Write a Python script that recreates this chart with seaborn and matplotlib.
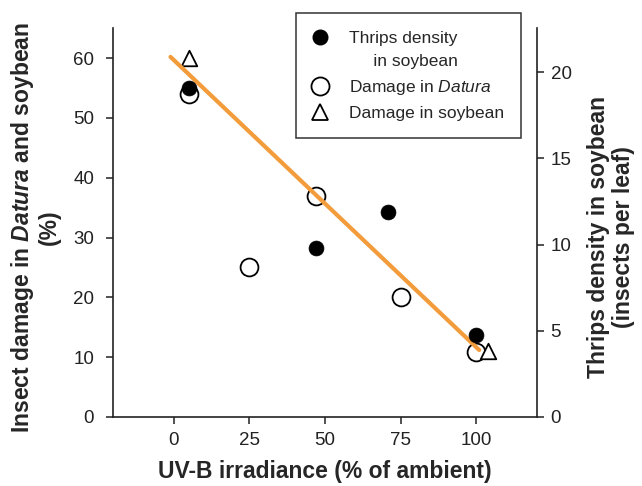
import matplotlib
matplotlib.use("Agg")
import matplotlib.pyplot as plt
from matplotlib.lines import Line2D
import seaborn as sns
import pandas as pd

# values
uvb_thrips = [5, 47, 71, 100]
thrips_density = [19.1, 9.8, 11.9, 4.75]

uvb_datura = [5, 25, 47, 75, 100]
damage_datura = [54, 25, 37, 20, 10.8]

uvb_soybean = [5, 104]
damage_soybean = [60, 11.1]

fit_x = [-1, 101]
fit_y = [60.2, 11.2]

x_ticks = [0, 25, 50, 75, 100]
left_ticks = [0, 10, 20, 30, 40, 50, 60]
right_ticks = [0, 5, 10, 15, 20]

ORANGE = "#F39C3C"

sns.set_style("ticks")
plt.rcParams["font.family"] = ["Liberation Sans", "DejaVu Sans"]
plt.rcParams["mathtext.fontset"] = "custom"
plt.rcParams["mathtext.rm"] = "Liberation Sans"
plt.rcParams["mathtext.it"] = "Liberation Sans:italic"
plt.rcParams["mathtext.bf"] = "Liberation Sans:bold"
plt.rcParams["mathtext.bfit"] = "Liberation Sans:italic:bold"

df_thrips = pd.DataFrame({"uvb": uvb_thrips, "density": thrips_density})
df_datura = pd.DataFrame({"uvb": uvb_datura, "damage": damage_datura})
df_soy = pd.DataFrame({"uvb": uvb_soybean, "damage": damage_soybean})
df_fit = pd.DataFrame({"uvb": fit_x, "damage": fit_y})

fig = plt.figure(figsize=(6.42, 4.86), dpi=100)
ax = fig.add_axes([0.176, 0.142, 0.660, 0.800])
ax2 = ax.twinx()

# left axis: damage
sns.scatterplot(data=df_datura, x="uvb", y="damage", ax=ax, marker="o", s=165,
                facecolor="white", edgecolor="black", linewidth=1.3, zorder=3)
sns.scatterplot(data=df_soy, x="uvb", y="damage", ax=ax, marker="^", s=125,
                facecolor="white", edgecolor="black", linewidth=1.3, zorder=3)
sns.lineplot(data=df_fit, x="uvb", y="damage", ax=ax, color=ORANGE, linewidth=3,
             solid_capstyle="round", zorder=4)

# right axis: thrips density
sns.scatterplot(data=df_thrips, x="uvb", y="density", ax=ax2, marker="o", s=115,
                color="black", edgecolor="black", linewidth=0.5, zorder=5)

ax.set_xlim(-20, 120)
ax.set_ylim(0, 65)
ax2.set_ylim(0, 22.55)
ax.set_xticks(x_ticks)
ax.set_yticks(left_ticks)
ax2.set_yticks(right_ticks)

for a in (ax, ax2):
    a.spines["top"].set_visible(False)
    for sp in a.spines.values():
        sp.set_linewidth(1.2)
        sp.set_color("#222222")
ax.spines["right"].set_visible(False)
ax2.spines["left"].set_visible(False)
ax2.spines["bottom"].set_visible(False)

ax.tick_params(axis="y", length=5, width=1.1, pad=8.5, labelsize=13.5, colors="#222222")
ax.tick_params(axis="x", length=5, width=1.1, pad=6, labelsize=13.5, colors="#222222")
ax2.tick_params(axis="y", length=5, width=1.1, pad=5, labelsize=13.5, colors="#222222")

ax.set_xlabel("UV-B irradiance (% of ambient)", fontsize=16.5, fontweight="bold", labelpad=8)
ax.set_ylabel("Insect damage in $\\mathbfit{Datura}$ and soybean\n(%)",
              fontsize=16.5, fontweight="bold", linespacing=1.1)
ax.yaxis.set_label_coords(-0.184, 0.488)
ax.yaxis.label.set_va("center")
ax2.set_ylabel("Thrips density in soybean\n(insects per leaf)",
               fontsize=16.5, fontweight="bold", linespacing=1.1, rotation=90)
ax2.yaxis.set_label_coords(1.175, 0.463)
ax2.yaxis.label.set_va("center")

handles = [
    Line2D([], [], marker="o", linestyle="none", markersize=10.5,
           markerfacecolor="black", markeredgecolor="black"),
    Line2D([], [], linestyle="none", marker=""),
    Line2D([], [], marker="o", linestyle="none", markersize=13,
           markerfacecolor="white", markeredgecolor="black", markeredgewidth=1.3),
    Line2D([], [], marker="^", linestyle="none", markersize=11,
           markerfacecolor="white", markeredgecolor="black", markeredgewidth=1.3),
]
labels = ["Thrips density", "     in soybean", "Damage in $\\mathit{Datura}$", "Damage in soybean"]
leg = fig.legend(handles, labels, loc="upper left", bbox_to_anchor=(0.461, 0.973),
                 frameon=True, fancybox=False, edgecolor="black", fontsize=12.5,
                 handlelength=0.75, handletextpad=1.3, labelspacing=0.5,
                 borderpad=1.0, borderaxespad=0)
leg.get_frame().set_linewidth(1.1)

fig.savefig("out.png", dpi=100)
